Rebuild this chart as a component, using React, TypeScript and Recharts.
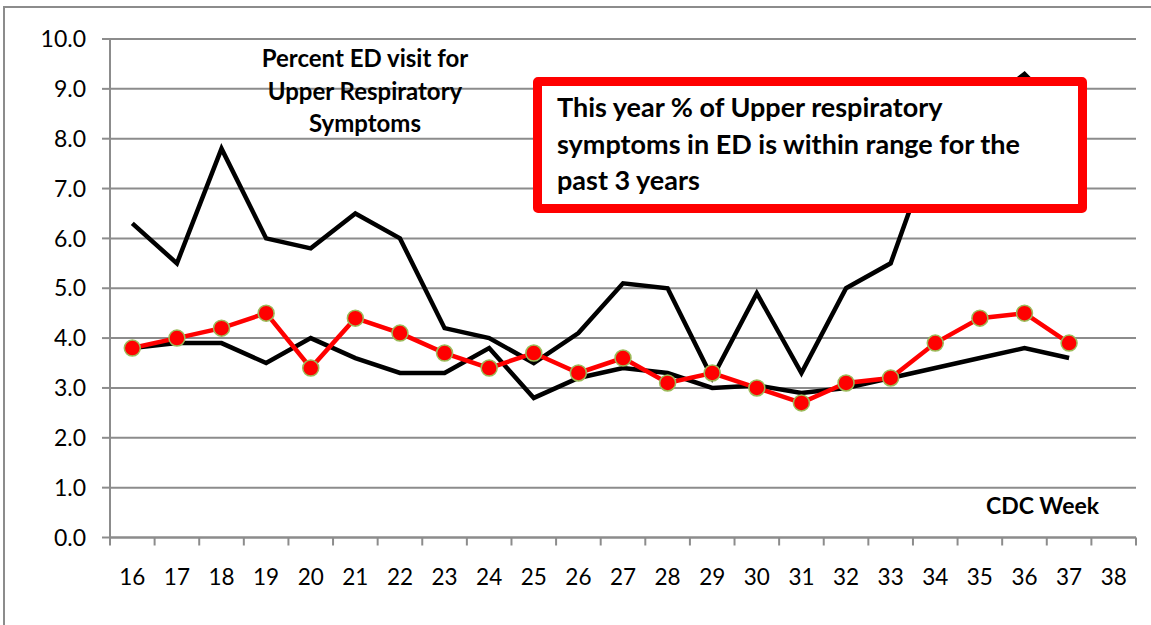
import React from 'react';
import { LineChart, Line, XAxis, YAxis, CartesianGrid } from 'recharts';

// CDC weeks on the x axis
const weeks = ['16', '17', '18', '19', '20', '21', '22', '23', '24', '25', '26', '27', '28', '29', '30', '31', '32', '33', '34', '35', '36', '37', '38'];

// % ED visits for upper respiratory symptoms
const thisYear: (number | null)[] = [3.8, 4.0, 4.2, 4.5, 3.4, 4.4, 4.1, 3.7, 3.4, 3.7, 3.3, 3.6, 3.1, 3.3, 3.0, 2.7, 3.1, 3.2, 3.9, 4.4, 4.5, 3.9, null];
const pastYearHigh: (number | null)[] = [6.3, 5.5, 7.8, 6.0, 5.8, 6.5, 6.0, 4.2, 4.0, 3.5, 4.1, 5.1, 5.0, 3.2, 4.9, 3.3, 5.0, 5.5, 8.0, 8.6, 9.3, 8.4, null];
const pastYearLow: (number | null)[] = [3.8, 3.9, 3.9, 3.5, 4.0, 3.6, 3.3, 3.3, 3.8, 2.8, 3.2, 3.4, 3.3, 3.0, 3.05, 2.9, 3.0, 3.2, 3.4, 3.6, 3.8, 3.6, null];

const yTicks = [0, 1, 2, 3, 4, 5, 6, 7, 8, 9, 10];

const titleLines = ['Percent ED visit for', 'Upper Respiratory', 'Symptoms'];
const noteLines = ['This year % of Upper respiratory', 'symptoms in ED is within range for the', 'past 3 years'];
const xTitle = 'CDC Week';

const data = weeks.map((week, i) => ({
  week,
  thisYear: thisYear[i],
  high: pastYearHigh[i],
  low: pastYearLow[i],
}));

const PLOT_LEFT = 110;
const PLOT_RIGHT = 1136;
const BAND = (PLOT_RIGHT - PLOT_LEFT) / weeks.length;
const GRID = '#8c8c8c';
const FONT = 'Lato, "Open Sans", sans-serif';

function WeekTick(props: any) {
  const { x, y, payload, index } = props;
  const last = index === weeks.length - 1;
  return (
    <g>
      <line x1={x - BAND / 2} x2={x - BAND / 2} y1={y} y2={y + 8} stroke={GRID} strokeWidth={2} />
      {last && <line x1={x + BAND / 2} x2={x + BAND / 2} y1={y} y2={y + 8} stroke={GRID} strokeWidth={2} />}
      <text x={x} y={y + 47} textAnchor="middle" fontSize={22.5} fill="#000" fontFamily={FONT}>
        {payload.value}
      </text>
    </g>
  );
}

export default function App() {
  return (
    <div style={{ position: 'absolute', left: 0, top: 0, width: 1151, height: 625, overflow: 'hidden', background: '#fff', fontFamily: FONT }}>
      {/* chart frame, runs off the right and bottom edge */}
      <div style={{ position: 'absolute', left: 3, top: 6, width: 1300, height: 800, border: `2px solid ${GRID}` }} />

      <div style={{ position: 'absolute', left: 0, top: 0 }}>
        <LineChart width={1151} height={625} data={data} margin={{ top: 39, right: 15, left: 0, bottom: 0 }}>
          <CartesianGrid vertical={false} stroke={GRID} strokeWidth={2} />
          <XAxis
            dataKey="week"
            scale="point"
            padding={{ left: BAND / 2, right: BAND / 2 }}
            interval={0}
            height={87.5}
            tickLine={false}
            tickSize={0}
            tickMargin={0}
            axisLine={{ stroke: GRID, strokeWidth: 2 }}
            tick={<WeekTick />}
          />
          <YAxis
            width={110}
            domain={[0, 10]}
            ticks={yTicks}
            interval={0}
            tickFormatter={(v: number) => v.toFixed(1)}
            axisLine={{ stroke: GRID, strokeWidth: 2 }}
            tickLine={{ stroke: GRID, strokeWidth: 2 }}
            tickSize={8}
            tickMargin={16}
            tick={{ fontSize: 23, fill: '#000', fontFamily: FONT }}
          />
          <Line dataKey="high" type="linear" stroke="#000" strokeWidth={4.5} dot={false} activeDot={false} isAnimationActive={false} />
          <Line dataKey="low" type="linear" stroke="#000" strokeWidth={4.5} dot={false} activeDot={false} isAnimationActive={false} />
          <Line
            dataKey="thisYear"
            type="linear"
            stroke="#ff0000"
            strokeWidth={4.5}
            dot={{ r: 8, fill: '#ff0000', stroke: '#9bbb59', strokeWidth: 1.5 }}
            activeDot={false}
            isAnimationActive={false}
          />
        </LineChart>
      </div>

      {/* chart title */}
      <div style={{ position: 'absolute', left: 215, top: 42, width: 300, textAlign: 'center', fontSize: 24, fontWeight: 700, lineHeight: '32.5px', color: '#000', whiteSpace: 'nowrap' }}>
        {titleLines.map((t) => (
          <div key={t}>{t}</div>
        ))}
      </div>

      {/* red callout */}
      <div
        style={{
          position: 'absolute',
          left: 533,
          top: 77,
          width: 554,
          height: 136,
          boxSizing: 'border-box',
          border: '9px solid #ff0000',
          borderRadius: 5,
          background: '#fff',
          paddingLeft: 15,
          paddingTop: 3,
          fontSize: 27,
          fontWeight: 700,
          lineHeight: '36.5px',
          color: '#000',
          whiteSpace: 'nowrap',
        }}
      >
        {noteLines.map((t) => (
          <div key={t}>{t}</div>
        ))}
      </div>

      {/* x axis title */}
      <div style={{ position: 'absolute', left: 986, top: 489, fontSize: 23, fontWeight: 700, lineHeight: '32px', color: '#000', whiteSpace: 'nowrap' }}>
        {xTitle}
      </div>
    </div>
  );
}
